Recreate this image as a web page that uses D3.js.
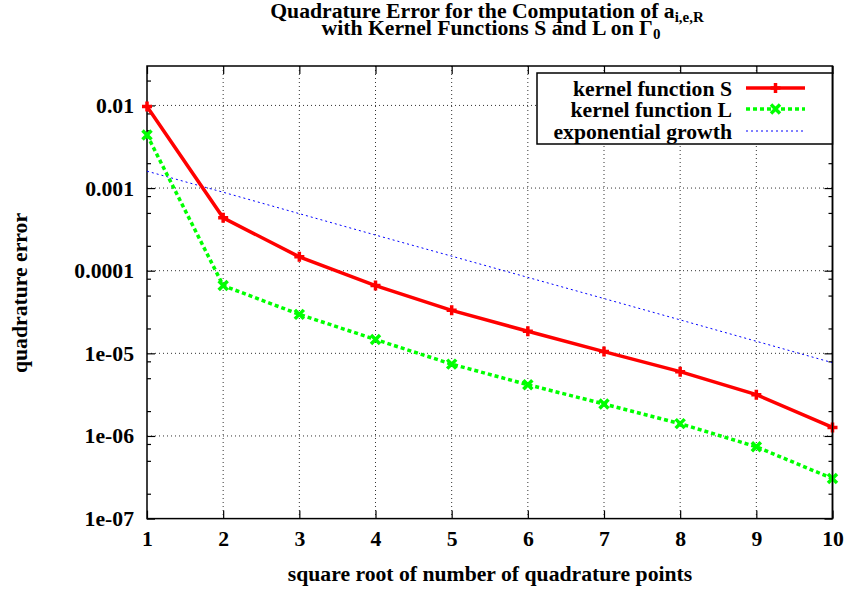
<!DOCTYPE html>
<html><head><meta charset="utf-8">
<script src="https://cdn.jsdelivr.net/npm/d3@7"></script>
<style>
body{margin:0;background:#fff;}
svg{display:block;}
text{font-family:"Liberation Serif","Times New Roman",Times,"DejaVu Serif",serif;font-weight:bold;fill:#000;}
</style></head>
<body><svg id="c" width="847" height="592"></svg>
<script>
const xValues = [1,2,3,4,5,6,7,8,9,10];
const kernelS = [9.7e-3, 4.36e-4, 1.47e-4, 6.6e-5, 3.31e-5, 1.85e-5, 1.05e-5, 6.0e-6, 3.16e-6, 1.27e-6];
const kernelL = [4.4e-3, 6.6e-5, 2.96e-5, 1.47e-5, 7.4e-6, 4.17e-6, 2.44e-6, 1.41e-6, 7.4e-7, 3.05e-7];
const expGrowth = [1.6e-3, 8.9e-4, 4.9e-4, 2.7e-4, 1.5e-4, 8.3e-5, 4.6e-5, 2.54e-5, 1.4e-5, 7.7e-6];
const yMajorTicks = [1e-7, 1e-6, 1e-5, 1e-4, 1e-3, 1e-2];
const yTickLabels = ["1e-07","1e-06","1e-05","0.0001","0.001","0.01"];
const yMinorTicks = [2e-7,5e-7,8e-7,2e-6,5e-6,8e-6,2e-5,5e-5,8e-5,2e-4,5e-4,8e-4,2e-3,5e-3,8e-3,2e-2];
const seriesNames = ["kernel function S","kernel function L","exponential growth"];

const FONT = '"Liberation Serif","Times New Roman",Times,"DejaVu Serif",serif';
const FS = 21.7;
const svg = d3.select("#c");
const L0 = 147, R0 = 832.5, T0 = 66, B0 = 518.6;
const x = d3.scaleLinear().domain([1,10]).range([L0,R0]);
const y = d3.scaleLog().domain([1e-7,0.03]).range([B0,T0]);

// grid
const grid = svg.append("g").attr("stroke","#000").attr("stroke-width",1).attr("stroke-dasharray","1,3").attr("opacity",0.8);
xValues.slice(1,-1).forEach(v=>grid.append("line").attr("x1",x(v)).attr("x2",x(v)).attr("y1",T0).attr("y2",B0));
yMajorTicks.slice(1).forEach(v=>grid.append("line").attr("x1",L0).attr("x2",R0).attr("y1",y(v)).attr("y2",y(v)));

// axes
function styleAxis(g){ g.select(".domain").remove(); g.selectAll("line").attr("stroke","#000").attr("stroke-width",1.2); g.selectAll("text").attr("font-size",FS).attr("font-family",FONT).attr("font-weight","bold"); }
svg.append("g").attr("transform",`translate(0,${B0})`).call(d3.axisBottom(x).tickValues(xValues).tickFormat(d3.format("d")).tickSize(-8).tickPadding(12)).call(styleAxis);
svg.append("g").attr("transform",`translate(0,${T0})`).call(d3.axisTop(x).tickValues(xValues).tickFormat("").tickSize(-8)).call(styleAxis);
svg.append("g").attr("transform",`translate(${L0},0)`).call(d3.axisLeft(y).tickValues(yMajorTicks).tickFormat((d,i)=>yTickLabels[i]).tickSize(-8).tickPadding(13)).call(styleAxis);
svg.append("g").attr("transform",`translate(${L0},0)`).call(d3.axisLeft(y).tickValues(yMinorTicks).tickFormat("").tickSize(-4)).call(styleAxis);
svg.append("g").attr("transform",`translate(${R0},0)`).call(d3.axisRight(y).tickValues(yMajorTicks).tickFormat("").tickSize(-8)).call(styleAxis);
svg.append("g").attr("transform",`translate(${R0},0)`).call(d3.axisRight(y).tickValues(yMinorTicks).tickFormat("").tickSize(-4)).call(styleAxis);

// border
svg.append("rect").attr("x",L0).attr("y",T0).attr("width",R0-L0).attr("height",B0-T0).attr("fill","none").attr("stroke","#000").attr("stroke-width",1.5);

const line = d3.line().x(d=>x(d[0])).y(d=>y(d[1]));
const dS = xValues.map((v,i)=>[v,kernelS[i]]);
const dL = xValues.map((v,i)=>[v,kernelL[i]]);
const dE = xValues.map((v,i)=>[v,expGrowth[i]]);

svg.append("path").datum(dE).attr("d",line).attr("fill","none").attr("stroke","#0000ff").attr("stroke-width",1).attr("stroke-dasharray","2,3");
svg.append("path").datum(dL).attr("d",line).attr("fill","none").attr("stroke","#00ff00").attr("stroke-width",3.5).attr("stroke-dasharray","4,3");
svg.append("path").datum(dS).attr("d",line).attr("fill","none").attr("stroke","#ff0000").attr("stroke-width",3.5);

function plus(g,cx,cy,col){ g.append("path").attr("d",`M${cx-5},${cy}H${cx+5}M${cx},${cy-5}V${cy+5}`).attr("stroke",col).attr("stroke-width",3.5); }
function cross(g,cx,cy,col){ g.append("path").attr("d",`M${cx-4.5},${cy-4.5}L${cx+4.5},${cy+4.5}M${cx-4.5},${cy+4.5}L${cx+4.5},${cy-4.5}`).attr("stroke",col).attr("stroke-width",3.5); }
const mk = svg.append("g");
dL.forEach(d=>cross(mk,x(d[0]),y(d[1]),"#00ff00"));
dS.forEach(d=>plus(mk,x(d[0]),y(d[1]),"#ff0000"));

// legend
const lg = svg.append("g");
lg.append("rect").attr("x",537).attr("y",73).attr("width",R0-537).attr("height",71).attr("fill","#fff").attr("stroke","#000").attr("stroke-width",1.5);
const rowsY = [88,109,131];
seriesNames.forEach((n,i)=>{
  lg.append("text").attr("x",732).attr("y",rowsY[i]).attr("dy","0.35em").attr("text-anchor","end").attr("font-size",FS).text(n);
});
lg.append("line").attr("x1",746).attr("x2",805).attr("y1",rowsY[0]).attr("y2",rowsY[0]).attr("stroke","#ff0000").attr("stroke-width",3.5);
plus(lg,775.5,rowsY[0],"#ff0000");
lg.append("line").attr("x1",746).attr("x2",805).attr("y1",rowsY[1]).attr("y2",rowsY[1]).attr("stroke","#00ff00").attr("stroke-width",3.5).attr("stroke-dasharray","4,3");
cross(lg,775.5,rowsY[1],"#00ff00");
lg.append("line").attr("x1",746).attr("x2",805).attr("y1",rowsY[2]).attr("y2",rowsY[2]).attr("stroke","#0000ff").attr("stroke-width",1).attr("stroke-dasharray","2,3");

// redraw right border over legend
svg.append("line").attr("x1",R0).attr("x2",R0).attr("y1",T0).attr("y2",B0).attr("stroke","#000").attr("stroke-width",1.5);

// titles
const t1 = svg.append("text").attr("x",487).attr("y",18).attr("text-anchor","middle").attr("font-size",FS);
t1.append("tspan").text("Quadrature Error for the Computation of a");
t1.append("tspan").attr("font-size",15).attr("dy",4).text("i,e,R");
const t2 = svg.append("text").attr("x",491).attr("y",35).attr("text-anchor","middle").attr("font-size",FS);
t2.append("tspan").text("with Kernel Functions S and L on \u0393");
t2.append("tspan").attr("font-size",15).attr("dy",4).text("0");

svg.append("text").attr("x",490).attr("y",581).attr("text-anchor","middle").attr("font-size",FS).text("square root of number of quadrature points");
svg.append("text").attr("transform","translate(27,293) rotate(-90)").attr("text-anchor","middle").attr("font-size",FS).text("quadrature error");
</script></body></html>
